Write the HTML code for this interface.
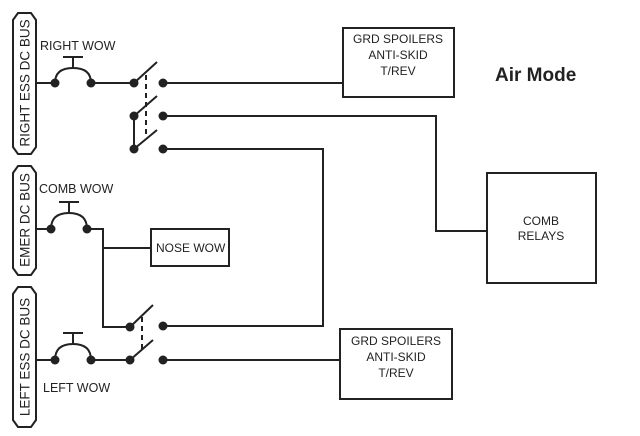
<!DOCTYPE html>
<html><head><style>body{margin:0;background:#fff}svg{display:block}</style></head><body>
<svg width="640" height="436" viewBox="0 0 640 436" xmlns="http://www.w3.org/2000/svg" font-family="Liberation Sans, sans-serif">
<g fill="none" stroke="#222" stroke-width="2">
<path d="M13,20 L18,13 L31,13 L36,20 L36,147 L31,154 L18,154 L13,147 Z"/>
<path d="M13,173 L18,166 L31,166 L36,173 L36,268 L31,275 L18,275 L13,268 Z"/>
<path d="M13,294 L18,287 L31,287 L36,294 L36,420 L31,427 L18,427 L13,420 Z"/>
<path d="M36,83 H55"/><path d="M55,83 Q55,68 73,68 Q91,68 91,83"/><path d="M73,68 V57 M63,57 H83"/>
<path d="M91,83 H134"/>
<path d="M134,83 L157,62 M134,116 L157,96 M134,149 L157,130 M134,116 V149"/>
<path d="M146,75 V137" stroke-dasharray="5,4"/>
<path d="M163,83 H343 M163,116 H436 V231 H487 M163,149 H323 V326 H163"/>
<path d="M36,229 H51"/><path d="M51,229 Q51,213 69,213 Q87,213 87,229"/><path d="M69,213 V202 M59,202 H79"/>
<path d="M87,229 H103 V327 H130 M103,248 H151"/>
<path d="M130,327 L153,305 M130,360 L153,340"/>
<path d="M142,317 V350" stroke-dasharray="5,4"/>
<path d="M36,360 H55"/><path d="M55,360 Q55,344 73,344 Q91,344 91,360"/><path d="M73,344 V333 M63,333 H83"/>
<path d="M91,360 H130 M163,360 H340"/>
<rect x="343" y="28" width="111" height="69"/>
<rect x="340" y="329" width="112" height="70"/>
<rect x="487" y="173" width="109" height="110"/>
<rect x="151" y="229" width="78" height="37"/>
</g>
<g fill="#222">
<circle cx="55" cy="83" r="4.5"/><circle cx="91" cy="83" r="4.5"/>
<circle cx="134" cy="83" r="4.5"/><circle cx="163" cy="83" r="4.5"/>
<circle cx="134" cy="116" r="4.5"/><circle cx="163" cy="116" r="4.5"/>
<circle cx="134" cy="149" r="4.5"/><circle cx="163" cy="149" r="4.5"/>
<circle cx="51" cy="229" r="4.5"/><circle cx="87" cy="229" r="4.5"/>
<circle cx="130" cy="327" r="4.5"/><circle cx="163" cy="326" r="4.5"/>
<circle cx="55" cy="360" r="4.5"/><circle cx="91" cy="360" r="4.5"/>
<circle cx="130" cy="360" r="4.5"/><circle cx="163" cy="360" r="4.5"/>
</g>
<g fill="#222" font-size="12.5">
<text x="40" y="50">RIGHT WOW</text>
<text x="39" y="193">COMB WOW</text>
<text x="43" y="392">LEFT WOW</text>
<text x="156" y="252" font-size="12">NOSE WOW</text>
<g text-anchor="middle" font-size="12">
<text x="398" y="43">GRD SPOILERS</text><text x="398" y="59">ANTI-SKID</text><text x="398" y="75">T/REV</text>
<text x="396" y="345">GRD SPOILERS</text><text x="396" y="361">ANTI-SKID</text><text x="396" y="377">T/REV</text>
<text x="541" y="225">COMB</text><text x="541" y="240">RELAYS</text>
</g>
<g text-anchor="middle" font-size="13.5">
<text transform="translate(29.5,83) rotate(-90)">RIGHT ESS DC BUS</text>
<text transform="translate(29.5,220) rotate(-90)">EMER DC BUS</text>
<text transform="translate(29.5,357) rotate(-90)">LEFT ESS DC BUS</text>
</g>
<text x="495" y="81" font-size="19" font-weight="bold">Air Mode</text>
</g>
</svg>
</body></html>
